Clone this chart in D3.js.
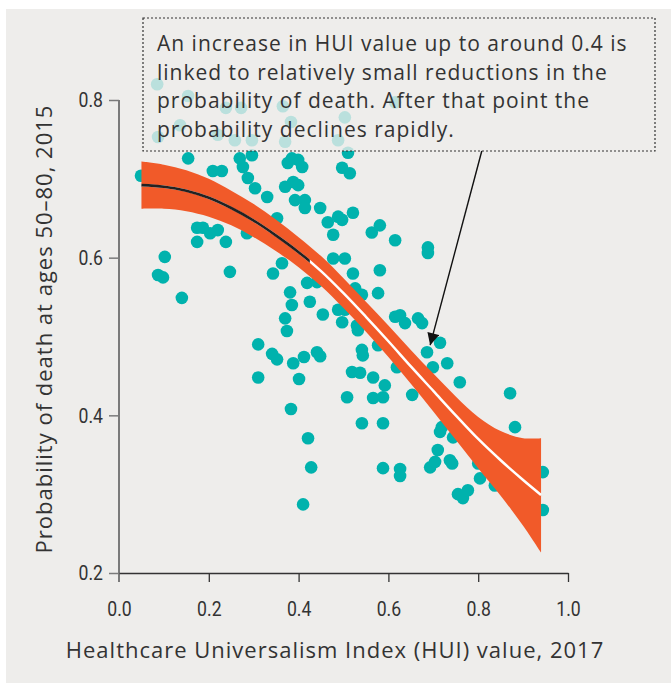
<!DOCTYPE html>
<html>
<head>
<meta charset="utf-8">
<script src="https://cdn.jsdelivr.net/npm/d3@7"></script>
<style>
  html, body { margin: 0; padding: 0; background: #ffffff; }
  svg { display: block; }
</style>
</head>
<body>
<svg id="chart" width="671" height="683"></svg>
<script>
// Country observations: HUI value (2017) and probability of death at ages 50–80 (2015)
const huiValues = [
  0.085,0.154,0.136,0.087,0.238,0.272,0.258,0.296,0.220,0.365,0.383,0.370,0.503,0.488,0.615,
  0.154,0.049,0.209,0.229,0.269,0.296,0.276,0.287,0.303,0.330,0.352,0.285,0.174,0.187,0.203,
  0.220,0.174,0.238,0.102,0.385,0.399,0.376,0.408,0.510,0.497,0.514,0.388,0.399,0.370,0.392,
  0.414,0.414,0.448,0.465,0.488,0.497,0.521,0.477,0.563,0.581,0.615,0.688,0.688,0.503,0.477,
  0.581,0.521,0.577,0.526,0.541,0.488,0.503,0.497,0.530,0.532,0.615,0.626,0.637,0.666,0.675,
  0.577,0.541,0.543,0.686,0.715,0.731,0.699,0.619,0.519,0.537,0.566,0.592,0.759,0.508,0.566,
  0.588,0.653,0.871,0.541,0.588,0.882,0.719,0.715,0.744,0.710,0.087,0.098,0.140,0.247,0.343,
  0.363,0.374,0.419,0.441,0.381,0.385,0.425,0.454,0.370,0.374,0.310,0.341,0.352,0.388,0.412,
  0.441,0.448,0.310,0.401,0.383,0.421,0.428,0.410,0.748,0.737,0.742,0.693,0.704,0.588,0.626,
  0.626,0.800,0.804,0.837,0.755,0.766,0.777,0.944,0.944
];
const deathProb = [
  0.820,0.805,0.768,0.753,0.790,0.790,0.749,0.749,0.756,0.792,0.772,0.747,0.778,0.749,0.797,
  0.726,0.704,0.710,0.710,0.726,0.730,0.715,0.701,0.688,0.677,0.650,0.631,0.638,0.638,0.631,
  0.635,0.620,0.620,0.601,0.726,0.724,0.720,0.715,0.733,0.714,0.707,0.696,0.692,0.690,0.673,
  0.673,0.663,0.663,0.645,0.652,0.648,0.657,0.629,0.632,0.641,0.622,0.613,0.606,0.599,0.599,
  0.584,0.580,0.555,0.561,0.553,0.534,0.534,0.518,0.514,0.508,0.525,0.527,0.517,0.523,0.517,
  0.489,0.483,0.476,0.480,0.492,0.466,0.461,0.461,0.455,0.454,0.448,0.438,0.442,0.423,0.422,
  0.423,0.426,0.428,0.390,0.390,0.385,0.385,0.379,0.372,0.356,0.578,0.575,0.549,0.582,0.580,
  0.593,0.610,0.568,0.569,0.556,0.540,0.544,0.528,0.523,0.507,0.490,0.478,0.471,0.466,0.474,
  0.480,0.475,0.448,0.446,0.408,0.371,0.334,0.287,0.374,0.343,0.339,0.334,0.341,0.333,0.332,
  0.323,0.339,0.320,0.311,0.300,0.295,0.305,0.328,0.280
];

// Fitted curve with its confidence band
const fitX      = [0.05,0.10,0.15,0.20,0.25,0.30,0.35,0.40,0.45,0.50,0.55,0.60,0.65,0.70,0.75,0.80,0.85,0.90,0.94];
const fitY      = [0.692,0.690,0.685,0.676,0.663,0.647,0.628,0.607,0.583,0.555,0.525,0.494,0.462,0.431,0.400,0.370,0.343,0.318,0.299];
const bandUpper = [0.722,0.718,0.711,0.700,0.685,0.668,0.648,0.626,0.602,0.574,0.544,0.514,0.483,0.453,0.424,0.398,0.380,0.371,0.371];
const bandLower = [0.662,0.662,0.659,0.652,0.641,0.626,0.608,0.588,0.564,0.536,0.506,0.474,0.440,0.405,0.369,0.333,0.298,0.260,0.226];
const flatSegmentEnd = 0.425;   // black part of the fit, where the decline is gentle

const xTicks = [0.0,0.2,0.4,0.6,0.8,1.0];
const yTicks = [0.2,0.4,0.6,0.8];

const xTitle = "Healthcare Universalism Index (HUI) value, 2017";
const yTitle = "Probability of death at ages 50–80, 2015";
const noteLines = [
  "An increase in HUI value up to around 0.4 is",
  "linked to relatively small reductions in the",
  "probability of death. After that point the",
  "probability declines rapidly."
];
const arrowFrom = [0.808, 0.735];
const arrowTo   = [0.693, 0.489];

const svg = d3.select("#chart");
const W = 671, H = 683;
const textFont = "'Open Sans', 'Noto Sans', sans-serif";
const tickFont = "'Roboto', 'Liberation Sans', sans-serif";
const ink = "#333333";
const squeeze = 0.84;   // narrow figures for tick labels

// panel background
svg.append("rect").attr("x", 6).attr("y", 9).attr("width", W - 6).attr("height", H - 9)
  .attr("fill", "#eeedeb");

const x = d3.scaleLinear().domain([0, 1]).range([119, 568]);
const y = d3.scaleLinear().domain([0.2, 0.8]).range([573, 100]);

// axes
const yAxis = svg.append("g").attr("transform", `translate(${x(0)},0)`)
  .call(d3.axisLeft(y).tickValues(yTicks).tickFormat(d3.format(".1f")).tickSize(10).tickSizeOuter(0).tickPadding(6));
yAxis.select(".domain").remove();
yAxis.selectAll(".tick line").attr("stroke", "#7a7a7a").attr("stroke-width", 1.5);
yAxis.selectAll(".tick text").attr("font-family", tickFont).attr("font-size", 21).attr("fill", ink)
  .attr("x", -16 / squeeze).attr("transform", `scale(${squeeze},1)`);
svg.append("line").attr("x1", x(0)).attr("x2", x(0)).attr("y1", y(0.8)).attr("y2", y(0.2) + 9)
  .attr("stroke", "#7a7a7a").attr("stroke-width", 2);

const xAxis = svg.append("g").attr("transform", `translate(0,${y(0.2)})`)
  .call(d3.axisBottom(x).tickValues(xTicks).tickFormat(d3.format(".1f")).tickSize(9).tickSizeOuter(0).tickPadding(19));
xAxis.select(".domain").attr("stroke", "#333").attr("stroke-width", 1.3);
xAxis.selectAll(".tick line").attr("stroke", "#333").attr("stroke-width", 1.3);
xAxis.selectAll(".tick").filter(d => d === 0).select("line").attr("stroke", "none");
xAxis.selectAll(".tick text").attr("font-family", tickFont).attr("font-size", 21).attr("fill", ink)
  .attr("transform", `scale(${squeeze},1)`);

// axis titles
svg.append("text").attr("x", 335).attr("y", 658).attr("text-anchor", "middle")
  .attr("font-family", textFont).attr("font-size", 22).attr("letter-spacing", 1).attr("fill", ink).text(xTitle);
svg.append("text").attr("transform", `translate(52,${329}) rotate(-90)`).attr("text-anchor", "middle")
  .attr("font-family", textFont).attr("font-size", 22).attr("letter-spacing", 1).attr("fill", ink).text(yTitle);

// scatter
const pts = huiValues.map((v, i) => ({ x: v, y: deathProb[i] }));
svg.append("g").selectAll("circle").data(pts).join("circle")
  .attr("cx", d => x(d.x)).attr("cy", d => y(d.y)).attr("r", 6.3)
  .attr("fill", "#00b2ad");

// confidence band
const band = fitX.map((v, i) => ({ x: v, lo: bandLower[i], hi: bandUpper[i], f: fitY[i] }));
svg.append("path").datum(band)
  .attr("d", d3.area().x(d => x(d.x)).y0(d => y(d.lo)).y1(d => y(d.hi)).curve(d3.curveCatmullRom))
  .attr("fill", "#f15a29");

// fitted line: white overall, black over the gentle part
const lineGen = d3.line().x(d => x(d.x)).y(d => y(d.f)).curve(d3.curveCatmullRom);
svg.append("defs").append("clipPath").attr("id", "flatPart")
  .append("rect").attr("x", 0).attr("y", 0).attr("width", x(flatSegmentEnd)).attr("height", H);
svg.append("path").datum(band)
  .attr("d", lineGen).attr("fill", "none").attr("stroke", "#ffffff").attr("stroke-width", 2.5);
svg.append("path").datum(band)
  .attr("d", lineGen).attr("fill", "none").attr("stroke", "#222222").attr("stroke-width", 2.6)
  .attr("clip-path", "url(#flatPart)");

// annotation box
const box = { x: 143, y: 18, w: 512, h: 133 };
svg.append("rect").attr("x", box.x).attr("y", box.y).attr("width", box.w).attr("height", box.h)
  .attr("fill", "#eeedeb").attr("fill-opacity", 0.78)
  .attr("stroke", "#333").attr("stroke-width", 1.2).attr("stroke-dasharray", "2,2");
svg.append("g").selectAll("text").data(noteLines).join("text")
  .attr("x", 157).attr("y", (d, i) => 51 + i * 28.5)
  .attr("font-family", textFont).attr("font-size", 21).attr("letter-spacing", 1).attr("fill", ink).text(d => d);

// arrow
svg.select("defs").append("marker").attr("id", "head")
  .attr("viewBox", "0 0 10 10").attr("refX", 10).attr("refY", 5)
  .attr("markerWidth", 14).attr("markerHeight", 12).attr("markerUnits", "userSpaceOnUse")
  .attr("orient", "auto")
  .append("path").attr("d", "M0,0 L10,5 L0,10 Z").attr("fill", "#111");
svg.append("line")
  .attr("x1", x(arrowFrom[0])).attr("y1", box.y + box.h)
  .attr("x2", x(arrowTo[0])).attr("y2", y(arrowTo[1]))
  .attr("stroke", "#111").attr("stroke-width", 1.4).attr("marker-end", "url(#head)");
</script>
</body>
</html>
